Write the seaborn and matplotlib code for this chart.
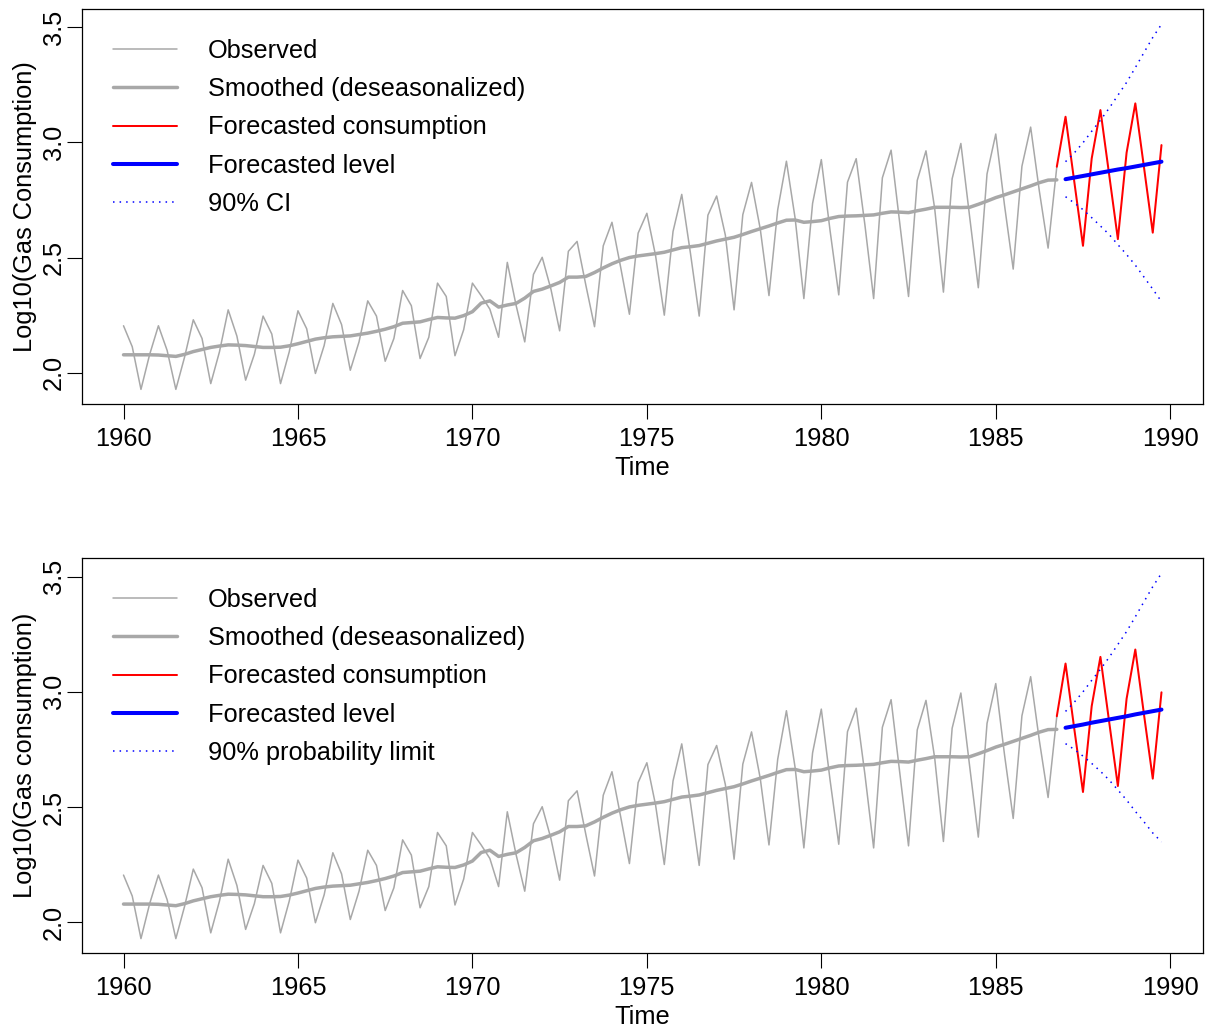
import numpy as np
import pandas as pd
import matplotlib
matplotlib.use("Agg")
import matplotlib.pyplot as plt
import seaborn as sns

# ---------------- data ----------------
start_year = 1960
quarters_per_year = 4

# Log10 of observed quarterly gas consumption, 1960Q1 .. 1986Q4
observed = [
    2.204, 2.113, 1.928, 2.080,  2.204, 2.097, 1.928, 2.068,
    2.230, 2.149, 1.953, 2.091,  2.273, 2.159, 1.968, 2.080,
    2.246, 2.168, 1.953, 2.091,  2.269, 2.191, 1.997, 2.118,
    2.301, 2.209, 2.011, 2.134,  2.312, 2.246, 2.050, 2.149,
    2.357, 2.291, 2.062, 2.154,  2.389, 2.331, 2.074, 2.187,
    2.389, 2.335, 2.276, 2.154,  2.479, 2.294, 2.134, 2.427,
    2.501, 2.363, 2.182, 2.527,  2.570, 2.381, 2.200, 2.551,
    2.653, 2.457, 2.254, 2.606,  2.692, 2.508, 2.250, 2.613,
    2.774, 2.518, 2.246, 2.684,  2.767, 2.597, 2.273, 2.686,
    2.826, 2.624, 2.335, 2.707,  2.918, 2.670, 2.322, 2.735,
    2.925, 2.618, 2.338, 2.827,  2.929, 2.641, 2.322, 2.846,
    2.966, 2.647, 2.331, 2.835,  2.963, 2.712, 2.350, 2.842,
    2.995, 2.679, 2.369, 2.863,  3.036, 2.728, 2.450, 2.896,
    3.066, 2.788, 2.541, 2.894,
]

# Smoothed (deseasonalized) level, 1960Q1 .. 1986Q4
smoothed = [
    2.078, 2.078, 2.078, 2.078,  2.077, 2.074, 2.071, 2.080,
    2.092, 2.101, 2.110, 2.116,  2.121, 2.120, 2.118, 2.114,
    2.110, 2.110, 2.111, 2.117,  2.126, 2.136, 2.146, 2.152,
    2.156, 2.158, 2.160, 2.166,  2.172, 2.180, 2.189, 2.200,
    2.215, 2.218, 2.221, 2.231,  2.240, 2.238, 2.237, 2.248,
    2.265, 2.302, 2.312, 2.285,  2.294, 2.301, 2.324, 2.353,
    2.363, 2.377, 2.392, 2.415,  2.415, 2.418, 2.435, 2.455,
    2.473, 2.488, 2.500, 2.507,  2.512, 2.517, 2.523, 2.533,
    2.543, 2.547, 2.552, 2.562,  2.572, 2.580, 2.588, 2.600,
    2.613, 2.625, 2.637, 2.650,  2.662, 2.663, 2.653, 2.656,
    2.660, 2.670, 2.678, 2.680,  2.681, 2.683, 2.685, 2.692,
    2.698, 2.697, 2.695, 2.703,  2.710, 2.718, 2.718, 2.718,
    2.717, 2.718, 2.731, 2.745,  2.760, 2.772, 2.785, 2.798,
    2.811, 2.825, 2.836, 2.837,
]

# Forecasts, 1987Q1 .. 1989Q4 (red line starts at the last observation)
fc_cons_top = [3.111, 2.830, 2.551, 2.930, 3.140, 2.860, 2.580, 2.955,
               3.169, 2.890, 2.608, 2.988]
fc_level_top = [2.840, 2.847, 2.854, 2.861, 2.868, 2.875, 2.882, 2.888,
                2.895, 2.902, 2.909, 2.916]
ci_upper_top = [2.916, 2.954, 2.998, 3.048, 3.096, 3.148, 3.204, 3.260,
                3.324, 3.390, 3.455, 3.512]
ci_lower_top = [2.764, 2.737, 2.708, 2.673, 2.637, 2.600, 2.556, 2.513,
                2.467, 2.415, 2.363, 2.309]

fc_cons_bot = [3.123, 2.840, 2.565, 2.938, 3.152, 2.870, 2.591, 2.970,
               3.184, 2.900, 2.623, 2.998]
fc_level_bot = [2.844, 2.851, 2.858, 2.866, 2.873, 2.880, 2.887, 2.894,
                2.902, 2.909, 2.916, 2.923]
ci_upper_bot = [2.915, 2.955, 3.000, 3.050, 3.098, 3.150, 3.206, 3.262,
                3.326, 3.392, 3.457, 3.515]
ci_lower_bot = [2.775, 2.750, 2.721, 2.689, 2.655, 2.617, 2.574, 2.530,
                2.481, 2.435, 2.387, 2.348]

x_ticks = [1960, 1965, 1970, 1975, 1980, 1985, 1990]
y_ticks = [2.0, 2.5, 3.0, 3.5]
y_tick_labels = ["2.0", "2.5", "3.0", "3.5"]

panels = [
    dict(ylabel="Log10(Gas Consumption)", ci_label="90% CI",
         cons=fc_cons_top, level=fc_level_top, up=ci_upper_top, lo=ci_lower_top,
         ylim=(1.8645, 3.5785)),
    dict(ylabel="Log10(Gas consumption)", ci_label="90% probability limit",
         cons=fc_cons_bot, level=fc_level_bot, up=ci_upper_bot, lo=ci_lower_bot,
         ylim=(1.8655, 3.5815)),
]

# ---------------- styling ----------------
sns.set_theme(style="white")
plt.rcParams["font.family"] = ["Liberation Sans", "DejaVu Sans"]
FS = 18.3
GRAY = "#A8A8A8"

n_obs = len(observed)
t_obs = start_year + np.arange(n_obs) / quarters_per_year
n_fc = len(fc_cons_top)
t_fc = t_obs[-1] + (np.arange(n_fc) + 1) / quarters_per_year
t_red = np.concatenate([[t_obs[-1]], t_fc])

W, H = 1209, 1027
fig = plt.figure(figsize=(W / 100, H / 100), dpi=100)
axes = [
    fig.add_axes([82 / W, 1 - 404 / H, 1121 / W, 395 / H]),
    fig.add_axes([82 / W, 1 - 953 / H, 1121 / W, 395 / H]),
]

for ax, p in zip(axes, panels):
    df_obs = pd.DataFrame({"t": t_obs, "obs": observed, "smooth": smoothed})
    df_red = pd.DataFrame({"t": t_red, "v": [observed[-1]] + p["cons"]})
    df_fc = pd.DataFrame({"t": t_fc, "level": p["level"], "up": p["up"], "lo": p["lo"]})

    sns.lineplot(data=df_obs, x="t", y="obs", ax=ax, color=GRAY, lw=1.1,
                 label="Observed", errorbar=None, sort=False)
    sns.lineplot(data=df_obs, x="t", y="smooth", ax=ax, color=GRAY, lw=2.5,
                 label="Smoothed (deseasonalized)", errorbar=None, sort=False)
    sns.lineplot(data=df_red, x="t", y="v", ax=ax, color="#FF0000", lw=1.45,
                 label="Forecasted consumption", errorbar=None, sort=False)
    sns.lineplot(data=df_fc, x="t", y="level", ax=ax, color="#0000FF", lw=2.9,
                 label="Forecasted level", errorbar=None, sort=False)
    sns.lineplot(data=df_fc, x="t", y="up", ax=ax, color="#0000FF", lw=1.1,
                 linestyle=(0, (1, 3.3)), label=p["ci_label"], errorbar=None, sort=False)
    sns.lineplot(data=df_fc, x="t", y="lo", ax=ax, color="#0000FF", lw=1.1,
                 linestyle=(0, (1, 3.3)), errorbar=None, sort=False)

    ax.set_xlim(1958.81, 1990.94)
    ax.set_ylim(*p["ylim"])
    ax.set_xticks(x_ticks)
    ax.set_xticklabels([str(v) for v in x_ticks], fontsize=FS)
    ax.set_yticks(y_ticks)
    ax.set_yticklabels(y_tick_labels, fontsize=FS, rotation=90, va="center")
    ax.tick_params(axis="both", which="major", direction="out", length=10.8,
                   width=0.8, color="black", labelcolor="black", pad=5.5,
                   bottom=True, left=True)
    ax.tick_params(axis="y", pad=0.8)
    for s in ax.spines.values():
        s.set_visible(True)
        s.set_color("black")
        s.set_linewidth(0.9)
    ax.set_xlabel("Time", fontsize=FS, color="black")
    ax.set_ylabel(p["ylabel"], fontsize=FS, color="black")
    ax.xaxis.set_label_coords(0.5, -0.132)
    ax.yaxis.set_label_coords(-0.0405, 0.5)
    ax.grid(False)

    leg = ax.legend(loc="upper left", bbox_to_anchor=(31 / 1121, 1 - 30 / 395),
                    frameon=False, fontsize=FS, handlelength=2.52,
                    handletextpad=1.22, labelspacing=0.56, borderpad=0,
                    borderaxespad=0)
    for txt in leg.get_texts():
        txt.set_color("black")

fig.savefig("out.png", dpi=100)
